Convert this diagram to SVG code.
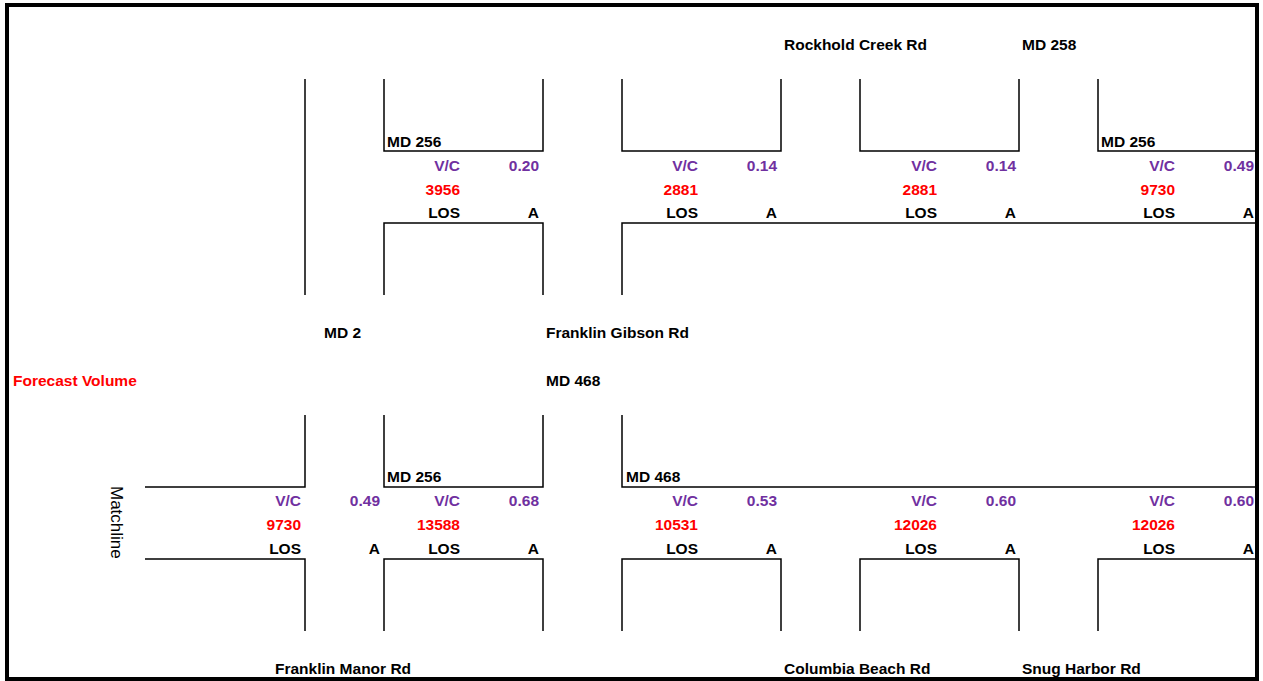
<svg xmlns="http://www.w3.org/2000/svg" width="1263" height="681" viewBox="0 0 1263 681">
<style>
text{font-family:"Liberation Sans",Arial,sans-serif;font-weight:bold;font-size:15.5px;fill:#000}
.vc{fill:#7030A0;text-anchor:end}
.num{fill:#FF0000;text-anchor:end}
.los{text-anchor:end}
.red{fill:#FF0000}
.reg{font-weight:normal;font-size:17px}
.rd{fill:none;stroke:#000;stroke-width:1.5}
</style>
<rect x="0" y="0" width="1263" height="681" fill="#fff"/>
<rect x="7" y="5" width="1250" height="674" fill="none" stroke="#000" stroke-width="4"/>

<g id="roads">
<!-- top section -->
<path class="rd" d="M305,79V295"/>
<path class="rd" d="M384,79V151H543V79"/>
<path class="rd" d="M384,295V223H543V295"/>
<path class="rd" d="M622,79V151H781V79"/>
<path class="rd" d="M622,295V223H1257"/>
<path class="rd" d="M860,79V151H1019V79"/>
<path class="rd" d="M1098,79V151H1257"/>
<!-- bottom section -->
<path class="rd" d="M145,487H305V415"/>
<path class="rd" d="M145,559H305V631"/>
<path class="rd" d="M384,415V487H543V415"/>
<path class="rd" d="M384,631V559H543V631"/>
<path class="rd" d="M622,415V487H1257"/>
<path class="rd" d="M622,631V559H781V631"/>
<path class="rd" d="M860,631V559H1019V631"/>
<path class="rd" d="M1098,631V559H1257"/>
</g>

<g id="labels">
<text x="784" y="50">Rockhold Creek Rd</text>
<text x="1022" y="50">MD 258</text>
<text x="324" y="338">MD 2</text>
<text x="546" y="338">Franklin Gibson Rd</text>
<text x="13" y="386" class="red">Forecast Volume</text>
<text x="546" y="386">MD 468</text>
<text x="275" y="674">Franklin Manor Rd</text>
<text x="784" y="674">Columbia Beach Rd</text>
<text x="1022" y="674">Snug Harbor Rd</text>
<text class="reg" transform="translate(111,486) rotate(90)">Matchline</text>
</g>

<g id="top-md256-md2">
<text x="387" y="147">MD 256</text>
<text class="vc" x="460" y="171">V/C</text><text class="vc" x="539" y="171">0.20</text>
<text class="num" x="460" y="195">3956</text>
<text class="los" x="460" y="218">LOS</text><text class="los" x="539" y="218">A</text>
</g>
<g id="top-md256-franklin-gibson">
<text class="vc" x="698" y="171">V/C</text><text class="vc" x="777" y="171">0.14</text>
<text class="num" x="698" y="195">2881</text>
<text class="los" x="698" y="218">LOS</text><text class="los" x="777" y="218">A</text>
</g>
<g id="top-md256-rockhold">
<text class="vc" x="937" y="171">V/C</text><text class="vc" x="1016" y="171">0.14</text>
<text class="num" x="937" y="195">2881</text>
<text class="los" x="937" y="218">LOS</text><text class="los" x="1016" y="218">A</text>
</g>
<g id="top-md256-md258">
<text x="1101" y="147">MD 256</text>
<text class="vc" x="1175" y="171">V/C</text><text class="vc" x="1254" y="171">0.49</text>
<text class="num" x="1175" y="195">9730</text>
<text class="los" x="1175" y="218">LOS</text><text class="los" x="1254" y="218">A</text>
</g>

<g id="bot-franklin-manor">
<text class="vc" x="301" y="506">V/C</text><text class="vc" x="380" y="506">0.49</text>
<text class="num" x="301" y="530">9730</text>
<text class="los" x="301" y="554">LOS</text><text class="los" x="380" y="554">A</text>
</g>
<g id="bot-md256">
<text x="387" y="482">MD 256</text>
<text class="vc" x="460" y="506">V/C</text><text class="vc" x="539" y="506">0.68</text>
<text class="num" x="460" y="530">13588</text>
<text class="los" x="460" y="554">LOS</text><text class="los" x="539" y="554">A</text>
</g>
<g id="bot-md468">
<text x="626" y="482">MD 468</text>
<text class="vc" x="698" y="506">V/C</text><text class="vc" x="777" y="506">0.53</text>
<text class="num" x="698" y="530">10531</text>
<text class="los" x="698" y="554">LOS</text><text class="los" x="777" y="554">A</text>
</g>
<g id="bot-columbia-beach">
<text class="vc" x="937" y="506">V/C</text><text class="vc" x="1016" y="506">0.60</text>
<text class="num" x="937" y="530">12026</text>
<text class="los" x="937" y="554">LOS</text><text class="los" x="1016" y="554">A</text>
</g>
<g id="bot-snug-harbor">
<text class="vc" x="1175" y="506">V/C</text><text class="vc" x="1254" y="506">0.60</text>
<text class="num" x="1175" y="530">12026</text>
<text class="los" x="1175" y="554">LOS</text><text class="los" x="1254" y="554">A</text>
</g>
</svg>
